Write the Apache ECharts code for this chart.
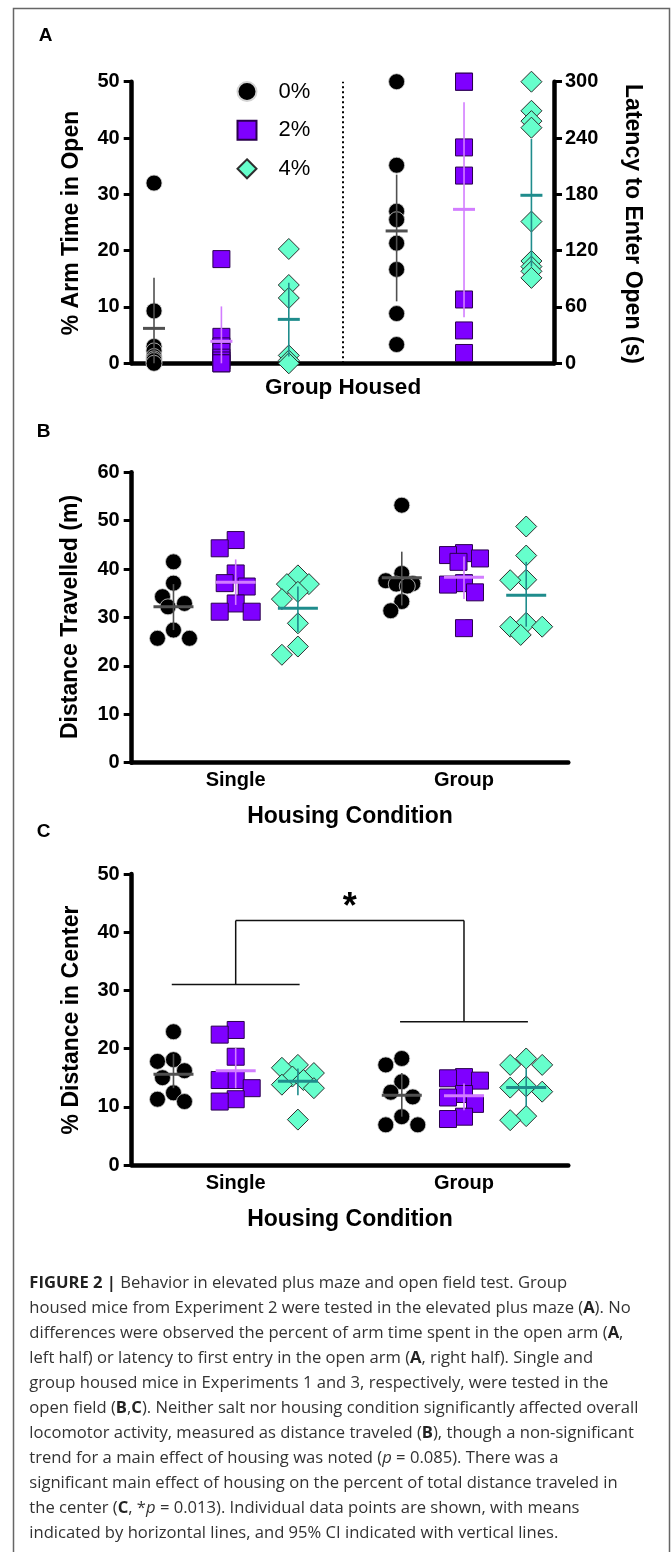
<!DOCTYPE html>
<html>
<head>
<meta charset="utf-8">
<title>Figure 2</title>
<style>
  html, body { margin: 0; padding: 0; background: #fff; }
  #main { width: 672px; height: 1552px; }
</style>
</head>
<body>
<div id="main"></div>
<script src="https://cdn.jsdelivr.net/npm/echarts@6.0.0/dist/echarts.min.js"></script>
<script>
var saltLevels = ['0%', '2%', '4%'];
var conditions = ['Single', 'Group'];

// A - group housed, elevated plus maze
var armTimeAxis = [0, 50, 10];
var armTime = [
  [32, 9.3, 3, 2.2, 1.2, 0.8, 0.5, 0],
  [18.5, 4.7, 3, 2, 1, 0.5, 0, 0],
  [20.3, 13.9, 11.6, 1.4, 0.5, 0]
];
var armTimeMean = [6.2, 3.9, 7.8];
var armTimeCI = [[0, 15.2], [0, 10.1], [1.2, 14.3]];

var latencyAxis = [0, 300, 60];
var latency = [
  [300, 211, 162, 153, 128, 100, 53, 20],
  [300, 300, 230, 200, 68, 35, 11],
  [300, 269, 258, 251, 151, 109, 103, 98, 91]
];
var latencyMean = [141, 164, 179];
var latencyCI = [[66, 201], [49, 278], [103, 239]];

// B - distance travelled
var distAxis = [0, 60, 10];
var distSingle = [
  [41.5, 37.1, 34.3, 32.9, 32.2, 27.4, 25.7, 25.7],
  [46, 44.3, 39.1, 37.1, 36.4, 32.9, 31.2, 31.2],
  [38.7, 36.9, 36.9, 35.3, 33.8, 28.8, 24, 22.3]
];
var distGroup = [
  [53.2, 39.1, 37.6, 37, 36.9, 36.5, 33.3, 31.4],
  [43.3, 42.9, 42.2, 41.5, 37.1, 36.8, 35.2, 27.8],
  [48.8, 42.8, 37.8, 37.7, 28.9, 28.1, 28.1, 26.4]
];
var distMean = [[32.2, 37.3, 31.9], [38.2, 38.3, 34.6]];
var distCI = [
  [[27.4, 36.9], [32.6, 42], [27, 36.4]],
  [[32.5, 43.6], [33.8, 42.6], [28.1, 41.5]]
];

// C - % distance in center
var centerAxis = [0, 50, 10];
var centerSingle = [
  [22.9, 18.1, 17.8, 16.2, 15, 12.4, 11.3, 10.9],
  [23.2, 22.4, 18.6, 14.6, 14.6, 13.2, 11.3, 10.9],
  [17.2, 16.7, 15.8, 15.2, 14.6, 13.8, 13.2, 7.8]
];
var centerGroup = [
  [18.3, 17.2, 14.3, 12.5, 11.7, 8.3, 6.9, 6.9],
  [15.1, 14.9, 14.5, 12.2, 11.6, 10.5, 8.3, 7.9],
  [18.3, 17.2, 17.2, 13.5, 13.3, 12.6, 8.4, 7.7]
];
var centerMean = [[15.6, 16.2, 14.4], [12.0, 11.9, 13.3]];
var centerCI = [
  [[13.2, 19.1], [13.2, 20.1], [12.0, 16.6]],
  [[8.3, 15.8], [9.4, 14.0], [10.0, 16.6]]
];
var bracketLevel = [31.0, 24.6];
var bracketTop = 42.0;
var starAt = 44.2;

var caption = [
  '{b|FIGURE 2 |} Behavior in elevated plus maze and open field test. Group',
  'housed mice from Experiment 2 were tested in the elevated plus maze ({b|A}). No',
  'differences were observed the percent of arm time spent in the open arm ({b|A},',
  'left half) or latency to first entry in the open arm ({b|A}, right half). Single and',
  'group housed mice in Experiments 1 and 3, respectively, were tested in the',
  'open field ({b|B},{b|C}). Neither salt nor housing condition significantly affected overall',
  'locomotor activity, measured as distance traveled ({b|B}), though a non-significant',
  'trend for a main effect of housing was noted ({i|p} = 0.085). There was a',
  'significant main effect of housing on the percent of total distance traveled in',
  'the center ({b|C}, *{i|p} = 0.013). Individual data points are shown, with means',
  'indicated by horizontal lines, and 95% CI indicated with vertical lines.'
];

// layout
var font = 'Liberation Sans, Arial, Helvetica, sans-serif';
var captionFont = 'Open Sans, Liberation Sans, Arial, sans-serif';
var gridA = { left: 131.7, top: 81.7, width: 422.3, height: 281.6 };
var gridB = { left: 131.7, top: 472.3, width: 436.6, height: 290.4 };
var gridC = { left: 131.7, top: 874, width: 436.6, height: 291 };
var xRangeA = [-0.331, 5.935];
var posLeftA = [0, 1, 2], posRightA = [3.6, 4.6, 5.6], dividerA = 2.8;
var xRangeBC = [-0.4555, 1.4569];
var saltOffset = [-0.2725, 0, 0.2725];

var symbols = ['circle', 'rect', 'diamond'];
var sizes = [16, 17, 21];
var fills = ['#000000', '#7f00ff', '#66ffcc'];
var edges = ['#d4d4d4', '#2a004d', '#2e2e2e'];
var meanColors = ['#505050', '#d27dff', '#1f8c8c'];

// spread points sideways so that they do not pile up (pixel units)
function swarm(vals, cx, pxX, pxY, d) {
  var cand = [0, -11, 11, -5.5, 5.5, -16, 16];
  var placed = [], out = [];
  var order = vals.map(function (v, i) { return i; })
    .sort(function (a, b) { return vals[b] - vals[a]; });
  order.forEach(function (i) {
    var y = vals[i] * pxY, best = 0, bestGap = -1;
    for (var k = 0; k < cand.length; k++) {
      var gap = Infinity;
      placed.forEach(function (p) { gap = Math.min(gap, Math.hypot(p[0] - cand[k], p[1] - y)); });
      if (gap >= d) { best = cand[k]; break; }
      if (gap > bestGap) { bestGap = gap; best = cand[k]; }
    }
    placed.push([best, y]);
    out[i] = [cx + best / pxX, vals[i]];
  });
  return out;
}

function yAxis(gridIndex, range, position, margin) {
  return {
    type: 'value', gridIndex: gridIndex, position: position,
    min: range[0], max: range[1], interval: range[2],
    axisLine: { show: true, onZero: false, lineStyle: { color: '#000', width: 4.5 } },
    axisTick: { show: true, length: 8, lineStyle: { color: '#000', width: 3 } },
    axisLabel: { margin: margin, fontSize: 20, fontWeight: 'bold', color: '#000', fontFamily: font },
    splitLine: { show: false }
  };
}

function xAxis(gridIndex, range, labels) {
  return {
    type: 'value', gridIndex: gridIndex, min: range[0], max: range[1],
    axisLine: { show: true, onZero: false, lineStyle: { color: '#000', width: 4.5 } },
    axisTick: { show: false },
    splitLine: { show: false },
    axisLabel: labels ? {
      show: true, customValues: [0, 1], margin: 8,
      fontSize: 20, fontWeight: 'bold', color: '#000', fontFamily: font,
      formatter: function (v) { return conditions[Math.round(v)]; }
    } : { show: false }
  };
}

function scatter(name, salt, xi, yi, data) {
  return {
    type: 'scatter', name: name, xAxisIndex: xi, yAxisIndex: yi,
    symbol: symbols[salt], symbolSize: sizes[salt],
    itemStyle: { color: fills[salt], borderColor: edges[salt], borderWidth: salt === 0 ? 0.8 : 1, opacity: 1 },
    data: data, z: 2
  };
}

function means(xi, yi, data, half) {
  return {
    type: 'custom', xAxisIndex: xi, yAxisIndex: yi, z: 4, clip: false, silent: true,
    encode: { x: 0, y: 1 },
    data: data,
    renderItem: function (params, api) {
      var c = meanColors[api.value(4)];
      var pm = api.coord([api.value(0), api.value(1)]);
      var pl = api.coord([api.value(0), api.value(2)]);
      var ph = api.coord([api.value(0), api.value(3)]);
      return {
        type: 'group', children: [
          { type: 'line', shape: { x1: pl[0], y1: pl[1], x2: ph[0], y2: ph[1] }, style: { stroke: c, lineWidth: 1.6 } },
          { type: 'line', shape: { x1: pm[0] - half, y1: pm[1], x2: pm[0] + half, y2: pm[1] }, style: { stroke: c, lineWidth: 3 } }
        ]
      };
    }
  };
}

var series = [];
var pxBx = gridB.width / (xRangeBC[1] - xRangeBC[0]);
var pxBy = gridB.height / (distAxis[1] - distAxis[0]);
var pxCy = gridC.height / (centerAxis[1] - centerAxis[0]);
var meanA0 = [], meanA1 = [], meanB = [], meanC = [];

saltLevels.forEach(function (name, s) {
  var sA0 = scatter(name, s, 0, 0, armTime[s].map(function (v) { return [posLeftA[s], v]; }));
  if (s === 0) {
    sA0.markLine = {
      silent: true, symbol: 'none', label: { show: false },
      lineStyle: { type: [2, 3], color: '#000', width: 2 },
      data: [{ xAxis: dividerA }]
    };
  }
  series.push(sA0);
  series.push(scatter(name, s, 0, 1, latency[s].map(function (v) { return [posRightA[s], v]; })));
  meanA0.push([posLeftA[s], armTimeMean[s], armTimeCI[s][0], armTimeCI[s][1], s]);
  meanA1.push([posRightA[s], latencyMean[s], latencyCI[s][0], latencyCI[s][1], s]);

  series.push(scatter(name, s, 1, 2,
    swarm(distSingle[s], 0 + saltOffset[s], pxBx, pxBy, 14)
      .concat(swarm(distGroup[s], 1 + saltOffset[s], pxBx, pxBy, 14))));
  series.push(scatter(name, s, 2, 3,
    swarm(centerSingle[s], 0 + saltOffset[s], pxBx, pxCy, 14)
      .concat(swarm(centerGroup[s], 1 + saltOffset[s], pxBx, pxCy, 14))));
  [0, 1].forEach(function (c) {
    meanB.push([c + saltOffset[s], distMean[c][s], distCI[c][s][0], distCI[c][s][1], s]);
    meanC.push([c + saltOffset[s], centerMean[c][s], centerCI[c][s][0], centerCI[c][s][1], s]);
  });
});

series.push(means(0, 0, meanA0, 11));
series.push(means(0, 1, meanA1, 11));
series.push(means(1, 2, meanB, 20));
series.push(means(2, 3, meanC, 20));

// significance bracket for housing in C
series.push({
  type: 'custom', xAxisIndex: 2, yAxisIndex: 3, z: 3, clip: false, silent: true,
  encode: { x: 0, y: 1 },
  data: [[0.5, bracketTop]],
  renderItem: function (params, api) {
    var st = { stroke: '#111', lineWidth: 1.5, fill: null };
    var kids = [];
    [0, 1].forEach(function (c) {
      var a = api.coord([c - 0.28, bracketLevel[c]]);
      var b = api.coord([c + 0.28, bracketLevel[c]]);
      var m = api.coord([c, bracketLevel[c]]);
      var t = api.coord([c, bracketTop]);
      kids.push({ type: 'line', shape: { x1: a[0], y1: a[1], x2: b[0], y2: b[1] }, style: st });
      kids.push({ type: 'line', shape: { x1: m[0], y1: m[1], x2: t[0], y2: t[1] }, style: st });
    });
    var l = api.coord([0, bracketTop]), r = api.coord([1, bracketTop]);
    kids.push({ type: 'line', shape: { x1: l[0], y1: l[1], x2: r[0], y2: r[1] }, style: st });
    var s = api.coord([0.5, starAt]);
    kids.push({
      type: 'text', x: s[0], y: s[1],
      style: { text: '*', fill: '#000', fontSize: 36, fontWeight: 'bold', fontFamily: font,
        align: 'center', verticalAlign: 'middle', textAlign: 'center', textVerticalAlign: 'middle' }
    });
    return { type: 'group', children: kids };
  }
});

function label(text, x, y, size, rot, weight) {
  return {
    type: 'text', x: x, y: y, rotation: rot || 0, silent: true,
    style: {
      text: text, fill: '#000', fontSize: size, fontWeight: weight || 'bold', fontFamily: font,
      align: 'center', verticalAlign: 'middle', textAlign: 'center', textVerticalAlign: 'middle'
    }
  };
}

var graphics = [
  { type: 'polyline', silent: true, shape: { points: [[13.5, 1552], [13.5, 8.5], [669.5, 8.5], [669.5, 1552]] },
    style: { stroke: '#666', lineWidth: 1.5, fill: null } },
  label('A', 45.5, 36, 19),
  label('B', 43.5, 432, 19),
  label('C', 43.5, 832, 19),
  label('% Arm Time in Open', 72, 223, 23, Math.PI / 2),
  label('Latency to Enter Open (s)', 632, 224, 23, -Math.PI / 2),
  label('Group Housed', 343, 388, 22.5),
  label('Distance Travelled (m)', 71, 617, 23, Math.PI / 2),
  label('Housing Condition', 350, 817, 23),
  label('% Distance in Center', 72, 1020, 23, Math.PI / 2),
  label('Housing Condition', 350, 1220, 23)
];
caption.forEach(function (line, i) {
  graphics.push({
    type: 'text', x: 29.3, y: 1283.3 + 25 * i, silent: true,
    style: {
      text: line, fill: '#333', fontSize: 16.6, fontFamily: captionFont,
      align: 'left', verticalAlign: 'middle', textAlign: 'left', textVerticalAlign: 'middle',
      rich: {
        b: { fontSize: 16.6, fontWeight: 'bold', fontFamily: captionFont, fill: '#222' },
        i: { fontSize: 16.6, fontStyle: 'italic', fontFamily: captionFont, fill: '#333' }
      }
    }
  });
});

var chart = echarts.init(document.getElementById('main'), null, { renderer: 'canvas' });
chart.setOption({
  animation: false,
  backgroundColor: '#fff',
  grid: [
    Object.assign({ containLabel: false, outerBoundsMode: 'none' }, gridA),
    Object.assign({ containLabel: false, outerBoundsMode: 'none' }, gridB),
    Object.assign({ containLabel: false, outerBoundsMode: 'none' }, gridC)
  ],
  xAxis: [xAxis(0, xRangeA, false), xAxis(1, xRangeBC, true), xAxis(2, xRangeBC, true)],
  yAxis: [
    yAxis(0, armTimeAxis, 'left', 12),
    yAxis(0, latencyAxis, 'right', 11),
    yAxis(1, distAxis, 'left', 12),
    yAxis(2, centerAxis, 'left', 12)
  ],
  legend: {
    data: saltLevels, orient: 'vertical', left: 236.5, top: 80.6, padding: 0,
    itemWidth: 19, itemHeight: 19, itemGap: 16.6, selectedMode: false,
    textStyle: { fontSize: 22, color: '#000', fontFamily: font, padding: [0, 0, 0, 17] }
  },
  graphic: graphics,
  series: series
});
</script>
</body>
</html>
